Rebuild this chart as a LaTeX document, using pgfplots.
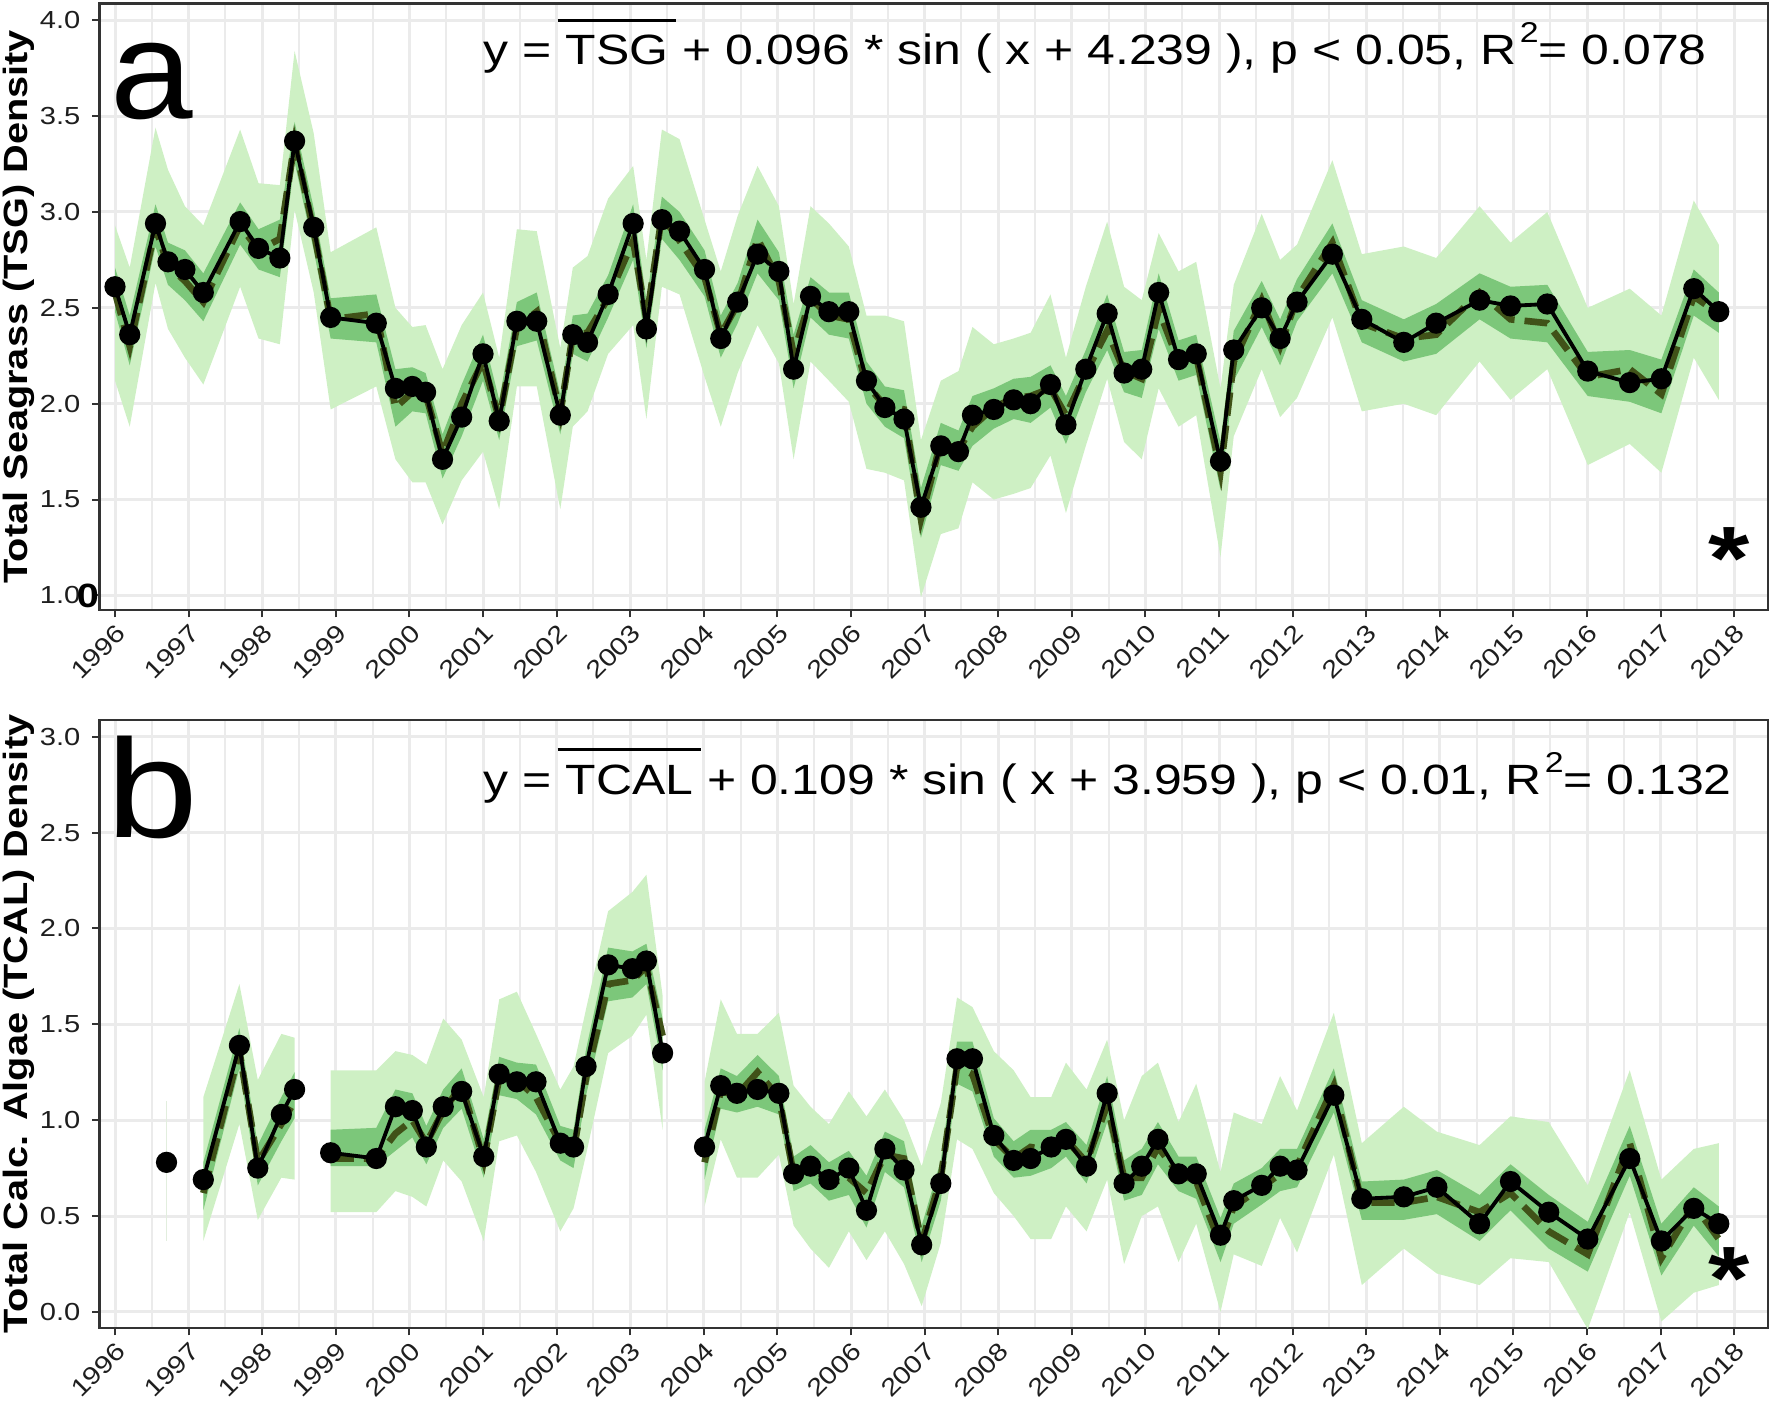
\documentclass[border=0pt]{standalone}
\usepackage{fontspec}
\setmainfont{Liberation Sans}[FakeStretch=1.18]
\newfontfamily\letterfont{Liberation Sans}[FakeStretch=1.06]
\usepackage{pgfplots}
\pgfplotsset{compat=1.18}
\usepackage{pgfplotstable}
\usepgfplotslibrary{fillbetween}

\definecolor{bandL}{RGB}{206,240,196}
\definecolor{bandD}{RGB}{124,199,122}
\definecolor{fitc}{RGB}{64,82,24}
\definecolor{gridc}{RGB}{235,235,235}
\definecolor{axc}{RGB}{51,51,51}
\definecolor{tickc}{RGB}{30,30,30}
\definecolor{faint}{RGB}{226,238,222}

\newcommand{\ovl}[1]{\hbox{\kern-2.4pt\vbox{\hrule height 1pt\kern 4pt\hbox{\kern2.4pt #1\kern2.4pt}}\kern-2.4pt}}
\newcommand{\sq}{\kern1pt\raisebox{6.6pt}{\fontsize{8.6}{9}\selectfont 2}}

\pgfplotstableread{
t obs fit lo1 hi1 lo2 hi2
1996.00 2.61 2.58 2.12 2.93 2.48 2.71
1996.20 2.36 2.30 1.88 2.71 2.20 2.46
1996.55 2.94 2.92 2.63 3.44 2.82 3.04
1996.72 2.74 2.72 2.39 3.22 2.62 2.84
1996.95 2.70 2.64 2.24 3.03 2.54 2.80
1997.20 2.58 2.53 2.10 2.93 2.43 2.68
1997.70 2.95 2.93 2.61 3.43 2.83 3.05
1997.95 2.81 2.80 2.34 3.15 2.70 2.91
1998.24 2.76 2.86 2.31 3.14 2.66 2.96
1998.44 3.37 3.36 3.01 3.84 3.26 3.47
1998.70 2.92 2.90 2.58 3.41 2.80 3.02
1998.93 2.45 2.44 1.97 2.79 2.34 2.55
1999.55 2.42 2.47 2.09 2.92 2.32 2.57
1999.81 2.08 1.98 1.71 2.50 1.88 2.18
2000.04 2.09 2.06 1.59 2.40 1.96 2.19
2000.22 2.06 2.05 1.59 2.41 1.95 2.16
2000.45 1.71 1.74 1.37 2.18 1.61 1.84
2000.71 1.93 2.00 1.60 2.41 1.83 2.10
2001.00 2.26 2.22 1.75 2.58 2.12 2.36
2001.22 1.91 1.92 1.45 2.24 1.81 2.02
2001.46 2.43 2.40 2.09 2.91 2.30 2.53
2001.73 2.43 2.48 2.09 2.90 2.33 2.58
2002.05 1.94 1.95 1.45 2.29 1.84 2.05
2002.22 2.36 2.36 1.88 2.71 2.26 2.46
2002.42 2.32 2.37 1.96 2.77 2.22 2.47
2002.70 2.57 2.55 2.26 3.07 2.45 2.67
2003.04 2.94 2.85 2.41 3.24 2.75 3.04
2003.22 2.39 2.44 1.92 2.75 2.29 2.54
2003.43 2.96 2.98 2.61 3.43 2.86 3.08
2003.67 2.90 2.85 2.57 3.38 2.75 3.00
2004.01 2.70 2.66 2.14 2.96 2.56 2.80
2004.23 2.34 2.36 1.88 2.69 2.24 2.46
2004.46 2.53 2.52 2.16 2.98 2.42 2.63
2004.73 2.78 2.86 2.41 3.24 2.68 2.96
2005.02 2.69 2.64 2.21 3.03 2.54 2.79
2005.22 2.18 2.26 1.71 2.52 2.08 2.36
2005.45 2.56 2.55 2.22 3.03 2.45 2.66
2005.70 2.48 2.46 2.12 2.94 2.36 2.58
2005.97 2.48 2.44 2.01 2.82 2.34 2.58
2006.21 2.12 2.10 1.66 2.46 2.00 2.22
2006.46 1.98 1.99 1.64 2.46 1.88 2.09
2006.72 1.92 1.97 1.60 2.43 1.82 2.07
2006.95 1.46 1.40 0.99 1.81 1.30 1.56
2007.22 1.78 1.80 1.32 2.12 1.68 1.90
2007.46 1.75 1.76 1.35 2.17 1.65 1.86
2007.65 1.94 1.88 1.59 2.40 1.78 2.04
2007.94 1.97 1.98 1.50 2.31 1.87 2.08
2008.21 2.02 2.03 1.53 2.34 1.92 2.13
2008.44 2.00 2.04 1.56 2.37 1.90 2.14
2008.71 2.10 2.08 1.73 2.57 1.98 2.20
2008.92 1.89 1.94 1.43 2.24 1.79 2.04
2009.19 2.18 2.16 1.78 2.61 2.06 2.28
2009.48 2.47 2.38 2.13 2.95 2.28 2.57
2009.71 2.16 2.17 1.80 2.61 2.06 2.27
2009.95 2.18 2.13 1.71 2.54 2.03 2.28
2010.18 2.58 2.49 2.08 2.89 2.39 2.68
2010.45 2.23 2.22 1.88 2.69 2.12 2.33
2010.69 2.26 2.25 1.94 2.74 2.15 2.36
2011.02 1.70 1.65 1.20 2.08 1.55 1.80
2011.20 2.28 2.22 1.83 2.62 2.12 2.38
2011.58 2.50 2.54 2.18 2.99 2.40 2.64
2011.83 2.34 2.30 1.93 2.75 2.20 2.44
2012.06 2.53 2.55 2.03 2.83 2.43 2.65
2012.54 2.78 2.84 2.45 3.27 2.68 2.94
2012.94 2.44 2.42 1.96 2.78 2.32 2.54
2013.51 2.32 2.34 2.00 2.82 2.22 2.44
2013.95 2.42 2.36 1.94 2.76 2.26 2.52
2014.54 2.54 2.58 2.22 3.03 2.44 2.68
2014.96 2.51 2.44 2.02 2.84 2.34 2.61
2015.46 2.52 2.42 2.18 3.00 2.32 2.62
2016.01 2.17 2.14 1.68 2.50 2.04 2.27
2016.58 2.11 2.18 1.79 2.60 2.01 2.28
2017.01 2.13 2.05 1.64 2.46 1.95 2.23
2017.45 2.60 2.56 2.24 3.06 2.46 2.70
2017.79 2.48 2.47 2.02 2.83 2.37 2.58
}\TabA

\pgfplotstableread{
t obs fit lo1 hi1 lo2 hi2
1997.20 0.69 0.62 0.37 1.12 0.53 0.78
1997.69 1.39 1.36 0.98 1.71 1.27 1.48
1997.94 0.75 0.78 0.48 1.21 0.66 0.87
1998.26 1.03 0.98 0.70 1.45 0.89 1.12
1998.44 1.16 1.10 0.69 1.43 1.01 1.25
}\TabBa

\pgfplotstableread{
t obs fit lo1 hi1 lo2 hi2
1998.93 0.83 0.80 0.52 1.26 0.76 0.95
1999.55 0.80 0.80 0.52 1.26 0.76 0.96
1999.81 1.07 0.93 0.63 1.36 0.84 1.16
2000.04 1.05 1.00 0.60 1.34 0.91 1.14
2000.23 0.86 0.88 0.55 1.29 0.77 0.97
2000.46 1.07 1.05 0.79 1.53 0.96 1.16
2000.71 1.15 1.18 0.68 1.42 1.06 1.27
2001.01 0.81 0.79 0.37 1.12 0.70 0.90
2001.22 1.24 1.22 0.89 1.63 1.13 1.33
2001.46 1.20 1.21 0.92 1.67 1.11 1.30
2001.72 1.20 1.12 0.73 1.45 1.03 1.29
2002.05 0.88 0.88 0.42 1.16 0.79 0.97
2002.23 0.86 0.84 0.54 1.28 0.75 0.95
2002.40 1.28 1.22 0.82 1.58 1.13 1.37
2002.70 1.81 1.71 1.35 2.09 1.62 1.90
2003.03 1.79 1.73 1.44 2.19 1.64 1.88
2003.22 1.83 1.80 1.55 2.28 1.71 1.92
2003.44 1.35 1.44 0.95 1.65 1.26 1.53
}\TabBb

\pgfplotstableread{
t obs fit lo1 hi1 lo2 hi2
2004.01 0.86 0.78 0.55 1.20 0.69 0.95
2004.23 1.18 1.15 0.90 1.63 1.06 1.27
2004.45 1.14 1.13 0.70 1.45 1.04 1.23
2004.73 1.16 1.25 0.70 1.45 1.07 1.34
2005.02 1.14 1.12 0.82 1.56 1.03 1.23
2005.22 0.72 0.72 0.45 1.18 0.63 0.81
2005.45 0.76 0.78 0.33 1.07 0.67 0.87
2005.70 0.69 0.67 0.23 0.98 0.58 0.78
2005.97 0.75 0.70 0.42 1.15 0.61 0.84
2006.21 0.53 0.62 0.27 1.02 0.44 0.71
2006.46 0.85 0.82 0.42 1.16 0.73 0.94
2006.72 0.74 0.80 0.25 1.00 0.65 0.89
2006.96 0.35 0.36 0.03 0.76 0.26 0.45
2007.22 0.67 0.70 0.36 1.09 0.58 0.79
2007.44 1.32 1.28 0.90 1.64 1.19 1.41
2007.65 1.32 1.24 0.85 1.59 1.15 1.41
2007.94 0.92 0.90 0.62 1.36 0.81 1.01
2008.21 0.79 0.80 0.50 1.26 0.70 0.89
2008.44 0.80 0.86 0.38 1.12 0.71 0.95
2008.72 0.86 0.84 0.38 1.12 0.75 0.95
2008.92 0.90 0.90 0.55 1.30 0.81 0.99
2009.20 0.76 0.78 0.42 1.16 0.67 0.87
2009.48 1.14 1.08 0.69 1.42 0.99 1.23
2009.71 0.67 0.70 0.25 1.00 0.58 0.79
2009.95 0.76 0.70 0.50 1.23 0.61 0.85
2010.17 0.90 0.86 0.55 1.30 0.77 0.99
2010.45 0.72 0.72 0.26 0.99 0.63 0.81
2010.69 0.72 0.68 0.46 1.19 0.59 0.81
2011.02 0.40 0.35 0.00 0.73 0.26 0.49
2011.20 0.58 0.55 0.30 1.04 0.46 0.67
2011.58 0.66 0.65 0.24 0.98 0.56 0.75
2011.83 0.76 0.72 0.49 1.23 0.63 0.85
2012.06 0.74 0.76 0.31 1.05 0.65 0.85
2012.56 1.13 1.18 0.82 1.56 1.04 1.27
2012.94 0.59 0.57 0.14 0.88 0.48 0.68
2013.51 0.60 0.57 0.33 1.07 0.48 0.69
2013.96 0.65 0.60 0.20 0.94 0.51 0.74
2014.54 0.46 0.52 0.14 0.87 0.37 0.61
2014.96 0.68 0.62 0.28 1.02 0.53 0.77
2015.48 0.52 0.42 0.26 0.99 0.33 0.61
2016.01 0.38 0.30 -0.09 0.66 0.21 0.47
2016.58 0.80 0.88 0.52 1.26 0.71 0.97
2017.01 0.37 0.28 -0.05 0.69 0.19 0.46
2017.45 0.54 0.56 0.10 0.85 0.45 0.65
2017.79 0.46 0.38 0.14 0.88 0.29 0.55
}\TabBc

\pgfplotsset{
  panel/.style={
    scale only axis, width=500.58pt,
    xmin=1995.788, xmax=2018.459,
    xtick={1996,1997,1998,1999,2000,2001,2002,2003,2004,2005,2006,2007,2008,2009,2010,2011,2012,2013,2014,2015,2016,2017,2018},
    xticklabels={1996,1997,1998,1999,2000,2001,2002,2003,2004,2005,2006,2007,2008,2009,2010,2011,2012,2013,2014,2015,2016,2017,2018},
    minor x tick num=1,
    grid=both,
    major grid style={draw=gridc, line width=0.9pt},
    minor grid style={draw=gridc, line width=0.6pt},
    tick align=outside, xtick pos=bottom, ytick pos=left,
    major tick length=2.2pt, minor tick length=0pt,
    tick style={draw=axc, line width=0.6pt},
    axis line style={draw=axc, line width=0.7pt},
    /pgf/number format/assume math mode=true,
    tick label style={font=\fontsize{7.4}{8}\selectfont, text=tickc},
    xticklabel style={rotate=45, anchor=north east, inner sep=1pt},
    every axis y label/.style={at={(axis description cs:-0.0482,0.5)}, rotate=90, anchor=center, font=\bfseries\fontsize{10.1}{12}\selectfont},
    clip mode=individual,
  },
  fitline/.style={fitc, line width=2pt, dash pattern=on 7pt off 3pt},
  obsline/.style={black, line width=1.15pt, mark=*, mark size=2.6pt, mark options={fill=black, solid}},
}

\begin{document}
\begin{tikzpicture}
%% ---------------- panel a ----------------
\begin{axis}[panel, at={(0,0)}, anchor=north west, height=181.98pt,
  ymin=0.924, ymax=4.088, ytick={1.0,1.5,2.0,2.5,3.0,3.5,4.0},
  yticklabels={1.0,1.5,2.0,2.5,3.0,3.5,4.0},
  ylabel={Total Seagrass (TSG) Density}]
\addplot[name path=aH1, draw=none] table[x=t,y=hi1]{\TabA};
\addplot[name path=aL1, draw=none] table[x=t,y=lo1]{\TabA};
\addplot[fill=bandL, draw=none] fill between[of=aH1 and aL1];
\addplot[name path=aH2, draw=none] table[x=t,y=hi2]{\TabA};
\addplot[name path=aL2, draw=none] table[x=t,y=lo2]{\TabA};
\addplot[fill=bandD, draw=none] fill between[of=aH2 and aL2];
\addplot[fitline] table[x=t,y=fit]{\TabA};
\addplot[obsline] table[x=t,y=obs]{\TabA};
\node[anchor=base west, inner sep=0pt, font=\letterfont\fontsize{42}{44}\selectfont] at (axis cs:1995.93,3.485) {a};
\node[anchor=base west, inner sep=0pt, font=\fontsize{12.7}{14}\selectfont] at (axis cs:2001.0,3.767)
  {y = \ovl{TSG} + 0.096 * sin ( x + 4.239 ), p < 0.05, R\sq= 0.078};
\node[anchor=base, inner sep=0pt, font=\bfseries\fontsize{27}{30}\selectfont] at (axis cs:2017.93,1.03) {*};
\node[anchor=center, inner sep=0pt, font=\bfseries\fontsize{10.1}{12}\selectfont] at (axis cs:1995.633,1.0) {0};
\end{axis}
%% ---------------- panel b ----------------
\begin{axis}[panel, at={(0,-214.98pt)}, anchor=north west, height=182.4pt,
  ymin=-0.084, ymax=3.087, ytick={0.0,0.5,1.0,1.5,2.0,2.5,3.0},
  yticklabels={0.0,0.5,1.0,1.5,2.0,2.5,3.0},
  ylabel={Total Calc. Algae (TCAL) Density}]
\addplot[faint, line width=0.4pt] coordinates {(1996.70,0.37) (1996.70,1.10)};
% segment 1
\addplot[name path=b1H1, draw=none] table[x=t,y=hi1]{\TabBa};
\addplot[name path=b1L1, draw=none] table[x=t,y=lo1]{\TabBa};
\addplot[fill=bandL, draw=none] fill between[of=b1H1 and b1L1];
\addplot[name path=b1H2, draw=none] table[x=t,y=hi2]{\TabBa};
\addplot[name path=b1L2, draw=none] table[x=t,y=lo2]{\TabBa};
\addplot[fill=bandD, draw=none] fill between[of=b1H2 and b1L2];
% segment 2
\addplot[name path=b2H1, draw=none] table[x=t,y=hi1]{\TabBb};
\addplot[name path=b2L1, draw=none] table[x=t,y=lo1]{\TabBb};
\addplot[fill=bandL, draw=none] fill between[of=b2H1 and b2L1];
\addplot[name path=b2H2, draw=none] table[x=t,y=hi2]{\TabBb};
\addplot[name path=b2L2, draw=none] table[x=t,y=lo2]{\TabBb};
\addplot[fill=bandD, draw=none] fill between[of=b2H2 and b2L2];
% segment 3
\addplot[name path=b3H1, draw=none] table[x=t,y=hi1]{\TabBc};
\addplot[name path=b3L1, draw=none] table[x=t,y=lo1]{\TabBc};
\addplot[fill=bandL, draw=none] fill between[of=b3H1 and b3L1];
\addplot[name path=b3H2, draw=none] table[x=t,y=hi2]{\TabBc};
\addplot[name path=b3L2, draw=none] table[x=t,y=lo2]{\TabBc};
\addplot[fill=bandD, draw=none] fill between[of=b3H2 and b3L2];
% lines
\addplot[fitline] table[x=t,y=fit]{\TabBa};
\addplot[fitline] table[x=t,y=fit]{\TabBb};
\addplot[fitline] table[x=t,y=fit]{\TabBc};
\addplot[obsline] table[x=t,y=obs]{\TabBa};
\addplot[obsline] table[x=t,y=obs]{\TabBb};
\addplot[obsline] table[x=t,y=obs]{\TabBc};
\addplot[obsline, only marks] coordinates {(1996.70,0.78)};
\node[anchor=base west, inner sep=0pt, font=\fontsize{42}{44}\selectfont] at (axis cs:1995.88,2.472) {b};
\node[anchor=base west, inner sep=0pt, font=\fontsize{12.7}{14}\selectfont] at (axis cs:2001.0,2.70)
  {y = \ovl{TCAL} + 0.109 * sin ( x + 3.959 ), p < 0.01, R\sq= 0.132};
\node[anchor=base, inner sep=0pt, font=\bfseries\fontsize{27}{30}\selectfont] at (axis cs:2017.93,0.013) {*};
\end{axis}
\pgfresetboundingbox
\path[use as bounding box] (-29.82pt,1.02pt) rectangle (501.78pt,-421.08pt);
\end{tikzpicture}
\end{document}
